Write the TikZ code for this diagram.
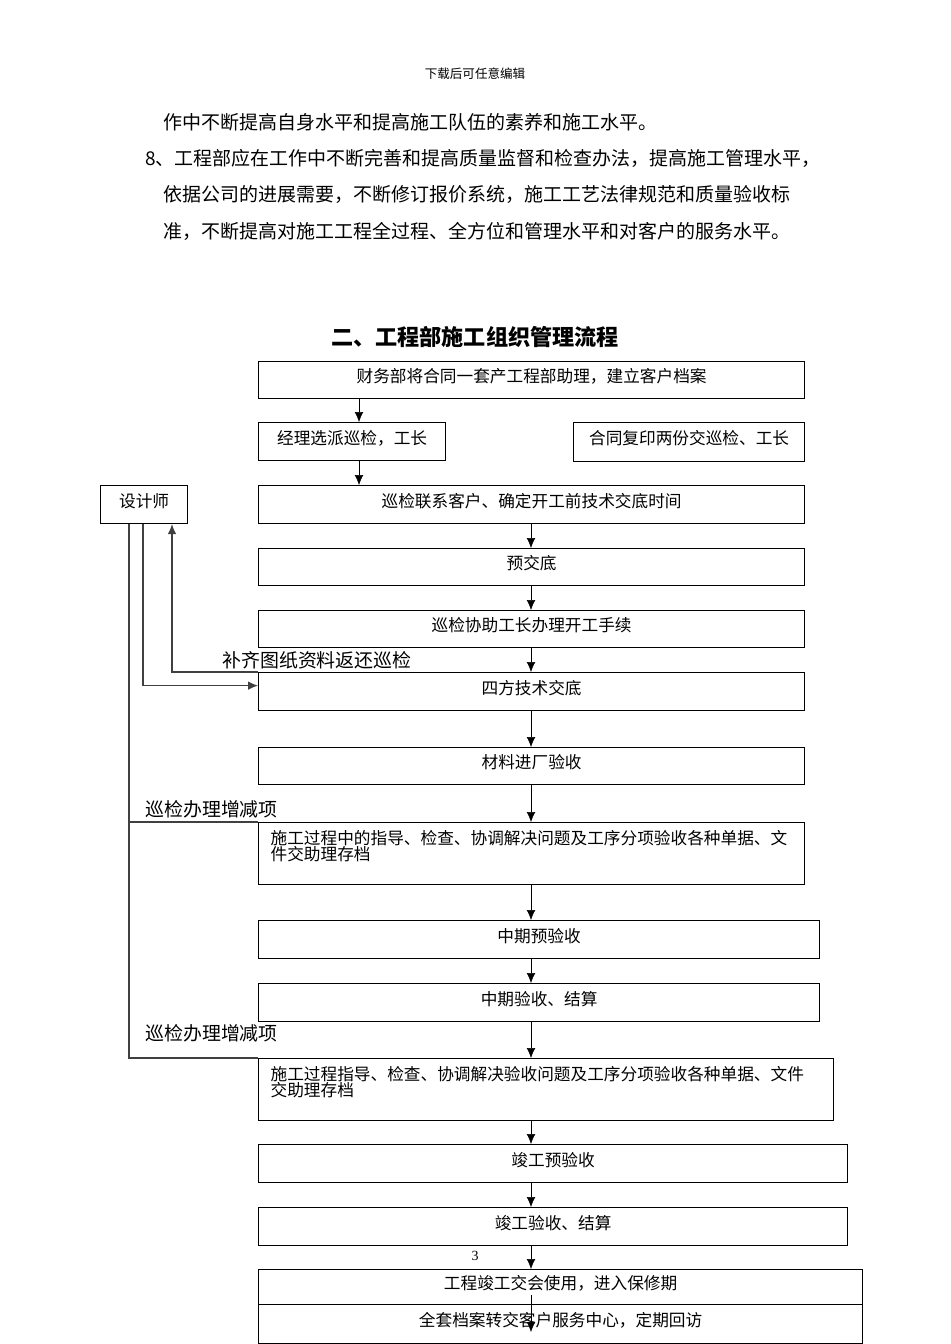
\documentclass[tikz,border=0pt]{standalone}
\usepackage{fontspec}
\setmainfont{Noto Sans CJK SC}
\newfontfamily\pagefont{Liberation Serif}
\usetikzlibrary{calc,arrows.meta}
\newdimen\px
\px=0.75pt % one pixel of the page
\tikzset{%
    >={Latex[length=7.5pt,width=6.5pt]}, % filled arrow heads
    flow box/.style 2 args={draw,rectangle,anchor=north west,line width=0.9pt,
        inner sep=0pt,minimum width=#1\px,minimum height=#2\px,
        text height=0.88em,text depth=0.5em, % text sits a bit high
        font=\fontsize{12.5}{12.5}\selectfont},%
    text box/.style 2 args={flow box={#1}{#2},text height=,text depth=,
        align=left,inner xsep=12\px,text width={(#1-24)*\px}},%
    side label/.style={anchor=west,inner sep=0pt,
        font=\fontsize{14.2}{14.2}\selectfont},%
    body line/.style={anchor=west,inner sep=0pt,
        font=\fontsize{14.25}{14.25}\selectfont},%
    side line/.style={line width=0.9pt,draw=black!75}%
}

\begin{document}
\begin{tikzpicture}[x=0.75pt,y=-0.75pt] % page in pixels, y downwards

    \useasboundingbox (0,0) rectangle (950,1344);

    % page text above the chart
    \node[inner sep=0pt,font=\fontsize{9.4}{9.4}\selectfont] (header) at (475,74) {下载后可任意编辑};
    \node[body line] (line1) at (163,122) {作中不断提高自身水平和提高施工队伍的素养和施工水平。};
    \node[body line] (line2) at (145,158) {8、工程部应在工作中不断完善和提高质量监督和检查办法，提高施工管理水平，};
    \node[body line] (line3) at (163,194) {依据公司的进展需要，不断修订报价系统，施工工艺法律规范和质量验收标};
    \node[body line] (line4) at (163,231) {准，不断提高对施工工程全过程、全方位和管理水平和对客户的服务水平。};
    \node[inner sep=0pt,font=\fontsize{16.6}{16.6}\selectfont\bfseries] (title) at (475,337) {二、工程部施工组织管理流程};

    % boxes of the flow
    \node[flow box={546}{37}] (finance) at (258,361) {财务部将合同一套产工程部助理，建立客户档案};
    \node[flow box={187}{38}] (assign) at (258,422) {经理选派巡检，工长};
    \node[flow box={231}{39}] (copy) at (573,422) {合同复印两份交巡检、工长};
    \node[flow box={87}{38}] (designer) at (100,485) {设计师};
    \node[flow box={546}{38}] (contact) at (258,485) {巡检联系客户、确定开工前技术交底时间};
    \node[flow box={546}{37}] (prebrief) at (258,548) {预交底};
    \node[flow box={546}{37}] (permit) at (258,610) {巡检协助工长办理开工手续};
    \node[flow box={546}{38}] (brief) at (258,672) {四方技术交底};
    \node[flow box={546}{37}] (material) at (258,747) {材料进厂验收};
    \node[text box={546}{62}] (process) at (258,822) {施工过程中的指导、检查、协调解决问题及工序分项验收各种单据、文\\件交助理存档\\ \mbox{}};
    \node[flow box={561}{38}] (midpre) at (258,920) {中期预验收};
    \node[flow box={561}{38}] (midcheck) at (258,983) {中期验收、结算};
    \node[text box={575}{62}] (process2) at (258,1058) {施工过程指导、检查、协调解决验收问题及工序分项验收各种单据、文件\\交助理存档\\ \mbox{}};
    \node[flow box={589}{38}] (finalpre) at (258,1144) {竣工预验收};
    \node[flow box={589}{38}] (finalcheck) at (258,1207) {竣工验收、结算};
    \node[flow box={604}{35}] (handover) at (258,1269) {工程竣工交会使用，进入保修期};
    \node[flow box={604}{39}] (archive) at (258,1304) {全套档案转交客户服务中心，定期回访};

    \node[inner sep=0pt,font=\pagefont\fontsize{10.5}{10.5}\selectfont] (pagenum) at (475,1256) {3};

    % columns of the arrows
    \coordinate (colA) at (359,0);
    \coordinate (colB) at (531,0);
    \coordinate (railA) at (129,0);
    \coordinate (railB) at (143,0);
    \coordinate (railC) at (172,0);

    \draw[->] (finance.south -| colA) -- (assign.north -| colA);
    \draw[->] (assign.south -| colA) -- (contact.north -| colA);
    \draw[->] (contact.south -| colB) -- (prebrief.north -| colB);
    \draw[->] (prebrief.south -| colB) -- (permit.north -| colB);
    \draw[->] (permit.south -| colB) -- (brief.north -| colB);
    \draw[->] (brief.south -| colB) -- (material.north -| colB);
    \draw[->] (material.south -| colB) -- (process.north -| colB);
    \draw[->] (process.south -| colB) -- (midpre.north -| colB);
    \draw[->] (midpre.south -| colB) -- (midcheck.north -| colB);
    \draw[->] (midcheck.south -| colB) -- (process2.north -| colB);
    \draw[->] (process2.south -| colB) -- (finalpre.north -| colB);
    \draw[->] (finalpre.south -| colB) -- (finalcheck.north -| colB);
    \draw[->] (finalcheck.south -| colB) -- (handover.north -| colB);
    \draw[->] ($(handover.south -| colB)+(0,-10)$) -- ($(archive.north -| colB)+(0,28)$);

    % lines from the designer
    \draw[side line] (designer.south -| railA) |- (process2.north west);
    \draw[side line] (railA |- process.north west) -- (process.north west);
    \draw[side line,->] (designer.south -| railB) |- ([yshift=4.5pt]brief.west);
    \draw[side line,->] (brief.north west) -| (designer.south -| railC);

    \node[side label] (supply) at (222,660) {补齐图纸资料返还巡检};
    \node[side label] (change1) at (145,809) {巡检办理增减项};
    \node[side label] (change2) at (145,1033) {巡检办理增减项};

\end{tikzpicture}
\end{document}
